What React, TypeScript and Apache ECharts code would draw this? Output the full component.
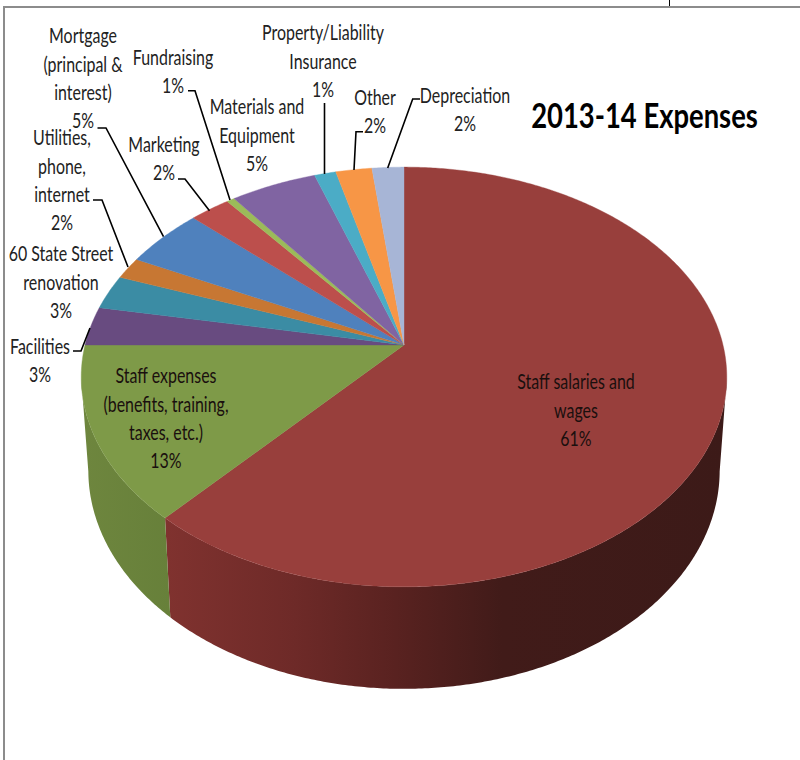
import React, { useEffect, useRef } from "react";
import * as echarts from "echarts";

const CATEGORIES = [
  "Staff salaries and\nwages",
  "Staff expenses\n(benefits, training,\ntaxes, etc.)",
  "Facilities",
  "60 State Street\nrenovation",
  "Utilities,\nphone,\ninternet",
  "Mortgage\n(principal &\ninterest)",
  "Marketing",
  "Fundraising",
  "Materials and\nEquipment",
  "Property/Liability\nInsurance",
  "Other",
  "Depreciation",
];
const VALUES = [61.55, 13.45, 3.0, 2.65, 1.7, 4.65, 2.35, 0.45, 5.0, 1.25, 2.1, 1.85];
const PERCENT_LABELS = ["61%", "13%", "3%", "3%", "2%", "5%", "2%", "1%", "5%", "1%", "2%", "2%"];
const COLORS = [
  "#983f3c", "#7e9a48", "#684b80", "#3b8ca4", "#c77733", "#4f81bd",
  "#bc4f4c", "#9bbb59", "#8064a2", "#4bacc6", "#f79646", "#a7b5d6",
];

// layout of each label: centre x, centre y of the text block
const LABEL_POS: [number, number][] = [
  [576, 410], [166, 418], [40, 360], [61, 282], [62, 180], [83, 78],
  [164, 158], [173, 71], [257, 135], [323, 61], [375, 111], [465, 109],
];
// layout of leader lines
const LEADERS: ([number, number][] | null)[] = [
  null, null,
  [[73, 351], [81, 351], [90, 328]],
  null,
  [[93, 200], [102, 200], [128, 267]],
  [[97.5, 128], [106, 128], [163.5, 236.7]],
  [[178, 179], [185, 179], [209.5, 210.7]],
  [[188, 90.7], [195, 90.7], [230, 200]],
  null,
  [[324.5, 103], [324.5, 174]],
  [[363, 131.7], [356, 131.7], [354, 170]],
  [[420, 99], [412.7, 99], [387.7, 168]],
];

// projection of the tilted disc
const APEX_X = 404, APEX_Y = 345, PERSP = 0.1524, RX = 319, RY = 205;
const TOTAL = VALUES.reduce((a, b) => a + b, 0);
const STARTS = VALUES.map((_, i) => VALUES.slice(0, i).reduce((a, b) => a + b, 0) / TOTAL * 360);

function topPt(deg: number): [number, number] {
  const t = (deg * Math.PI) / 180;
  const u = Math.sin(t), v = Math.cos(t);
  const w = 1 + PERSP * v;
  return [APEX_X + (RX * u) / w, APEX_Y - (RY * v) / w];
}
function botPt(deg: number): [number, number] {
  const [x, y] = topPt(deg);
  return [APEX_X + (x - APEX_X) * 0.978, 689 + (y - 587) * 1.04];
}
function arc(fn: (d: number) => [number, number], a: number, b: number) {
  const pts: [number, number][] = [];
  const n = Math.max(2, Math.ceil(Math.abs(b - a) * 2));
  for (let i = 0; i <= n; i++) pts.push(fn(a + ((b - a) * i) / n));
  return pts;
}

const WALL_FILLS = [
  new echarts.graphic.LinearGradient(0, 0, 1, 0, [
    { offset: 0, color: "#80322f" },
    { offset: 0.23, color: "#6e2a28" },
    { offset: 0.41, color: "#592220" },
    { offset: 0.6, color: "#411b19" },
    { offset: 1, color: "#3c1a18" },
  ]),
  new echarts.graphic.LinearGradient(0, 0, 1, 0, [
    { offset: 0, color: "#6e863e" },
    { offset: 1, color: "#67803a" },
  ]),
];
const WALL_LIMITS = [99, 261];

export default function App() {
  const ref = useRef<HTMLDivElement>(null);
  useEffect(() => {
    document.body.style.margin = "0";
    const chart = echarts.init(ref.current!, undefined, { renderer: "svg" });
    const textEls = CATEGORIES.map((name, i) => ({
      type: "text",
      x: LABEL_POS[i][0],
      y: LABEL_POS[i][1],
      scaleX: 0.76,
      z: 10,
      style: {
        text: `${name}\n${PERCENT_LABELS[i]}`,
        fill: i < 2 ? "#1a0f0e" : "#222222",
        font: "400 21px Lato",
        lineHeight: 28.4,
        align: "center",
        verticalAlign: "middle",
      },
    }));
    const leaderEls = LEADERS.flatMap((pts) =>
      pts
        ? [{
            type: "polyline",
            z: 9,
            shape: { points: pts },
            style: { stroke: "#000000", lineWidth: 1.6, fill: "none" },
          }]
        : []
    );
    chart.setOption({
      animation: false,
      backgroundColor: "#ffffff",
      graphic: [
        { type: "line", z: 8, shape: { x1: 4, y1: 7, x2: 4, y2: 760 }, style: { stroke: "#8c8c8c", lineWidth: 2 } },
        { type: "line", z: 8, shape: { x1: 3, y1: 7, x2: 800, y2: 7 }, style: { stroke: "#8c8c8c", lineWidth: 2 } },
        { type: "line", z: 8, shape: { x1: 669.5, y1: 0, x2: 669.5, y2: 6 }, style: { stroke: "#000000", lineWidth: 1 } },
        {
          type: "text",
          x: 644.5,
          y: 115,
          scaleX: 0.783,
          z: 10,
          style: {
            text: "2013-14 Expenses",
            fill: "#000000",
            font: "700 35px Lato",
            align: "center",
            verticalAlign: "middle",
          },
        },
        ...leaderEls,
        ...textEls,
      ],
      series: [
        {
          type: "custom",
          name: "Side",
          coordinateSystem: "none",
          silent: true,
          data: VALUES.slice(0, 2),
          renderItem: (params: any) => {
            const i = params.dataIndex;
            const a = i === 0 ? WALL_LIMITS[0] : STARTS[i];
            const b = i === 0 ? STARTS[1] : WALL_LIMITS[1];
            const pts = [...arc(topPt, a, b), ...arc(botPt, b, a)];
            return { type: "polygon", shape: { points: pts }, style: { fill: WALL_FILLS[i] } };
          },
        },
        {
          type: "custom",
          name: "2013-14 Expenses",
          coordinateSystem: "none",
          silent: true,
          data: VALUES,
          renderItem: (params: any, api: any) => {
            const i = params.dataIndex;
            const sweep = (api.value(0) / TOTAL) * 360;
            const pts = [[APEX_X, APEX_Y], ...arc(topPt, STARTS[i], STARTS[i] + sweep)];
            return {
              type: "polygon",
              shape: { points: pts },
              style: { fill: COLORS[i], stroke: COLORS[i], lineWidth: 0.4 },
            };
          },
        },
      ],
    });
    return () => chart.dispose();
  }, []);
  return <div ref={ref} style={{ position: "absolute", left: 0, top: 0, width: 800, height: 760 }} />;
}
